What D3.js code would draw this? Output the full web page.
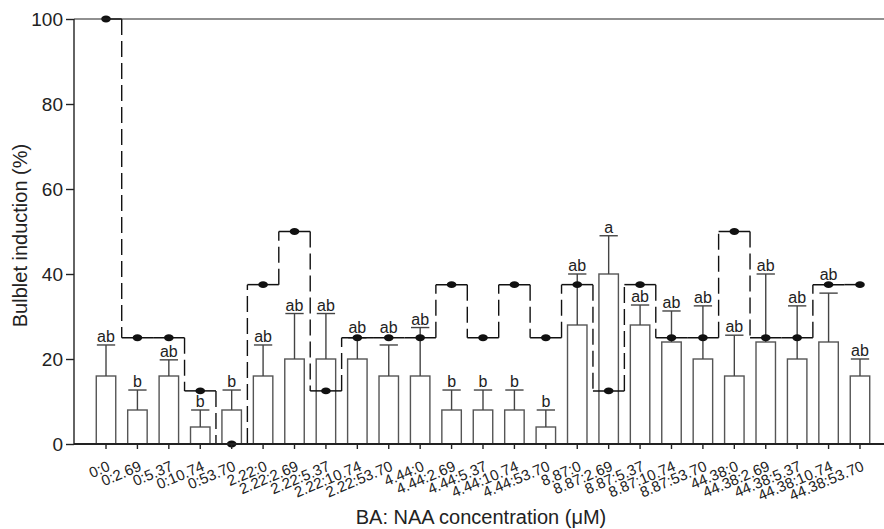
<!DOCTYPE html>
<html>
<head>
<meta charset="utf-8">
<script src="https://cdn.jsdelivr.net/npm/d3@7"></script>
<style>
  body { margin: 0; background: #fff; }
  svg { display: block; font-family: "Liberation Sans", Arial, sans-serif; }
</style>
</head>
<body>
<svg width="884" height="529"></svg>
<script>

// treatments, BA:NAA (uM)
var categories = ["0:0", "0:2.69", "0:5.37", "0:10.74", "0:53.70",
    "2.22:0", "2.22:2.69", "2.22:5.37", "2.22:10.74", "2.22:53.70",
    "4.44:0", "4.44:2.69", "4.44:5.37", "4.44:10.74", "4.44:53.70",
    "8.87:0", "8.87:2.69", "8.87:5.37", "8.87:10.74", "8.87:53.70",
    "44.38:0", "44.38:2.69", "44.38:5.37", "44.38:10.74", "44.38:53.70"];

// bar means and upper error
var barValues = [16, 8, 16, 4, 8, 16, 20, 20, 20, 16, 16, 8, 8, 8, 4, 28, 40, 28, 24, 20, 16, 24, 20, 24, 16];
var errValues = [7.3, 4.7, 3.8, 4, 4.7, 7.3, 10.7, 10.7, 5, 7.3, 11.4, 4.7, 4.7, 4.7, 4, 12, 9, 4.7, 7.3, 12.5, 9.6, 16, 12.5, 11.5, 4];
var letters = ["ab", "b", "ab", "b", "b", "ab", "ab", "ab", "ab", "ab", "ab", "b", "b", "b", "b",
    "ab", "a", "ab", "ab", "ab", "ab", "ab", "ab", "ab", "ab"];

// step line series (dots)
var lineValues = [100, 25, 25, 12.5, 0, 37.5, 50, 12.5, 25, 25, 25, 37.5, 25, 37.5, 25,
    37.5, 12.5, 37.5, 25, 25, 50, 25, 25, 37.5, 37.5];

var yTicks = [0, 20, 40, 60, 80, 100];

var svg = d3.select("svg"),
    mLeft = 74, mRight = 884, mTop = 19, mBottom = 444;

var x = d3.scaleBand()
    .domain(categories)
    .range([90.3, 875.7])
    .paddingInner(0.38)
    .paddingOuter(0.19);

var y = d3.scaleLinear()
    .domain([0, 100])
    .range([mBottom, mTop]);

var data = categories.map(function(c, i) {
    return { cat: c, mean: barValues[i], err: errValues[i], letter: letters[i], line: lineValues[i] };
});

var cx = function(d) { return x(d.cat) + x.bandwidth() / 2; };

// BARS
svg.append("g")
    .selectAll("rect")
    .data(data)
    .enter()
    .append("rect")
    .attr("x", function(d) { return x(d.cat); })
    .attr("y", function(d) { return y(d.mean); })
    .attr("width", x.bandwidth())
    .attr("height", function(d) { return y(0) - y(d.mean); })
    .style("fill", "#fff")
    .style("stroke", "#555")
    .style("stroke-width", 1.4);

// ERROR BARS
var eb = svg.append("g").selectAll("g")
    .data(data)
    .enter()
    .append("g");

eb.append("line")
    .attr("x1", cx).attr("x2", cx)
    .attr("y1", function(d) { return y(d.mean); })
    .attr("y2", function(d) { return y(d.mean + d.err); })
    .style("stroke", "#444")
    .style("stroke-width", 1.4);

eb.append("line")
    .attr("x1", function(d) { return cx(d) - x.bandwidth() * 0.47; })
    .attr("x2", function(d) { return cx(d) + x.bandwidth() * 0.47; })
    .attr("y1", function(d) { return y(d.mean + d.err); })
    .attr("y2", function(d) { return y(d.mean + d.err); })
    .style("stroke", "#444")
    .style("stroke-width", 1.4);

// letters sit on the cap, or just above the line when it passes there
eb.append("text")
    .attr("x", cx)
    .attr("y", function(d) {
        var capY = y(d.mean + d.err), lineY = y(d.line);
        if (lineY > capY - 14 && lineY <= capY + 1) return lineY - 5;
        return capY - 3;
    })
    .text(function(d) { return d.letter; })
    .style("text-anchor", "middle")
    .style("font-size", "16px")
    .style("fill", "#222");

// STEP LINE: horizontal solid, vertical dashed
var step = x.step();
var hseg = [], vseg = [];
data.forEach(function(d, i) {
    var x0 = i == 0 ? cx(d) : cx(d) - step / 2,
        x1 = i == data.length - 1 ? cx(d) : cx(d) + step / 2;
    hseg.push({ x0: x0, x1: x1, v: d.line });
    if (i > 0 && data[i - 1].line != d.line) {
        vseg.push({ xv: cx(d) - step / 2, a: data[i - 1].line, b: d.line });
    }
});

svg.append("g")
    .selectAll("line")
    .data(vseg)
    .enter()
    .append("line")
    .attr("x1", function(d) { return d.xv; })
    .attr("x2", function(d) { return d.xv; })
    .attr("y1", function(d) { return y(d.a); })
    .attr("y2", function(d) { return y(d.b); })
    .style("stroke", "#111")
    .style("stroke-width", 1.4)
    .style("stroke-dasharray", "16,6");

svg.append("g")
    .selectAll("line")
    .data(hseg)
    .enter()
    .append("line")
    .attr("x1", function(d) { return d.x0; })
    .attr("x2", function(d) { return d.x1; })
    .attr("y1", function(d) { return y(d.v); })
    .attr("y2", function(d) { return y(d.v); })
    .style("stroke", "#111")
    .style("stroke-width", 1.5);

svg.append("g")
    .selectAll("ellipse")
    .data(data)
    .enter()
    .append("ellipse")
    .attr("cx", cx)
    .attr("cy", function(d) { return y(d.line); })
    .attr("rx", 4.8)
    .attr("ry", 3.4)
    .style("fill", "#111");

// AXES
var yAxis = svg.append("g")
    .attr("transform", "translate(" + mLeft + ",0)")
    .call(d3.axisLeft(y).tickValues(yTicks).tickSize(8).tickPadding(3));
yAxis.select(".domain").remove();
yAxis.selectAll(".tick line").style("stroke", "#222").style("stroke-width", 1.4);
yAxis.selectAll(".tick text")
    .style("font-size", "19px")
    .style("fill", "#222")
    .style("font-family", "Liberation Sans, Arial, sans-serif");

var xAxis = svg.append("g")
    .attr("transform", "translate(0," + mBottom + ")")
    .call(d3.axisBottom(x).tickSize(5).tickPadding(0));
xAxis.select(".domain").remove();
xAxis.selectAll(".tick line").style("stroke", "#222").style("stroke-width", 1.4);
xAxis.selectAll(".tick text")
    .attr("y", 0)
    .attr("dy", 0)
    .attr("transform", "translate(5,26) rotate(-23)")
    .style("text-anchor", "end")
    .style("font-size", "15px")
    .style("fill", "#222")
    .style("font-family", "Liberation Sans, Arial, sans-serif");

// frame lines
svg.append("line")
    .attr("x1", mLeft).attr("x2", mRight)
    .attr("y1", y(0)).attr("y2", y(0))
    .style("stroke", "#222").style("stroke-width", 1.8);
svg.append("line")
    .attr("x1", mLeft).attr("x2", mLeft)
    .attr("y1", y(0)).attr("y2", y(100))
    .style("stroke", "#222").style("stroke-width", 1.4);
svg.append("line")
    .attr("x1", mLeft).attr("x2", mRight)
    .attr("y1", y(100)).attr("y2", y(100))
    .style("stroke", "#222").style("stroke-width", 1.2);

// TITLES
svg.append("text")
    .attr("transform", "translate(27," + ((mTop + mBottom) / 2 + 4) + ") rotate(-90)")
    .text("Bulblet induction (%)")
    .style("text-anchor", "middle")
    .style("font-size", "20px")
    .style("fill", "#222");

svg.append("text")
    .attr("x", (mLeft + mRight) / 2 + 2)
    .attr("y", 524)
    .text("BA: NAA concentration (\u03BCM)")
    .style("text-anchor", "middle")
    .style("font-size", "20px")
    .style("fill", "#222");

</script>
</body>
</html>
